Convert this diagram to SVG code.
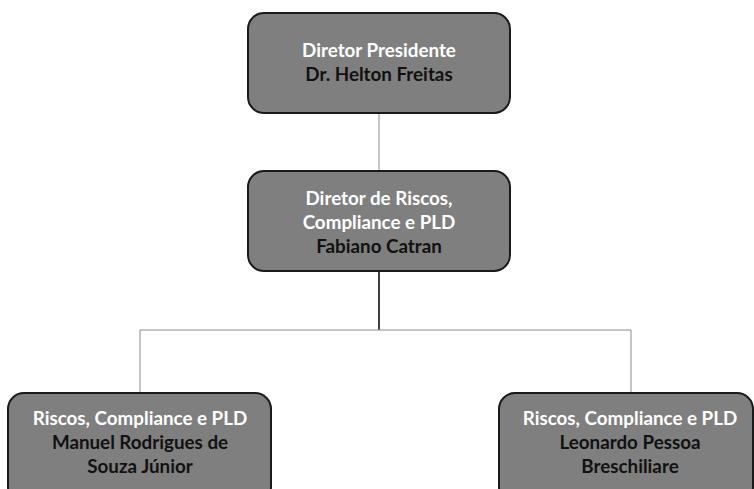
<svg xmlns="http://www.w3.org/2000/svg" width="754" height="489" viewBox="0 0 754 489">
<style>
.box{fill:#7f7f7f;stroke:#1a1a1a;stroke-width:2}
text{font-family:Lato,"Open Sans","Liberation Sans",sans-serif;font-weight:bold;font-size:18.8px;text-anchor:middle}
.w{fill:#ffffff}
.k{fill:#111111}
.c{fill:none;stroke:#8c8c8c;stroke-width:1}
.cb{fill:none;stroke:#000;stroke-width:1.5}
</style>
<rect width="754" height="489" fill="#fff"/>
<g id="connectors">
<line class="c" x1="379" y1="113" x2="379" y2="171"/>
<line class="cb" x1="379" y1="271" x2="379" y2="330"/>
<polyline class="c" points="140,393 140,330 631,330 631,393"/>
</g>
<g id="n1">
<rect class="box" x="248" y="13" width="262" height="100" rx="16"/>
<text class="w" x="379" y="57">Diretor Presidente</text>
<text class="k" x="379" y="81">Dr. Helton Freitas</text>
</g>
<g id="n2">
<rect class="box" x="248" y="171" width="262" height="100" rx="16"/>
<text class="w" x="379" y="205">Diretor de Riscos,</text>
<text class="w" x="379" y="229">Compliance e PLD</text>
<text class="k" x="379" y="253">Fabiano Catran</text>
</g>
<g id="n3">
<rect class="box" x="8" y="393" width="263" height="110" rx="16"/>
<text class="w" x="140" y="425">Riscos, Compliance e PLD</text>
<text class="k" x="140" y="449">Manuel Rodrigues de</text>
<text class="k" x="140" y="473">Souza Júnior</text>
</g>
<g id="n4">
<rect class="box" x="499" y="393" width="254" height="110" rx="16"/>
<text class="w" x="630" y="425">Riscos, Compliance e PLD</text>
<text class="k" x="630" y="449">Leonardo Pessoa</text>
<text class="k" x="630" y="473">Breschiliare</text>
</g>
</svg>
